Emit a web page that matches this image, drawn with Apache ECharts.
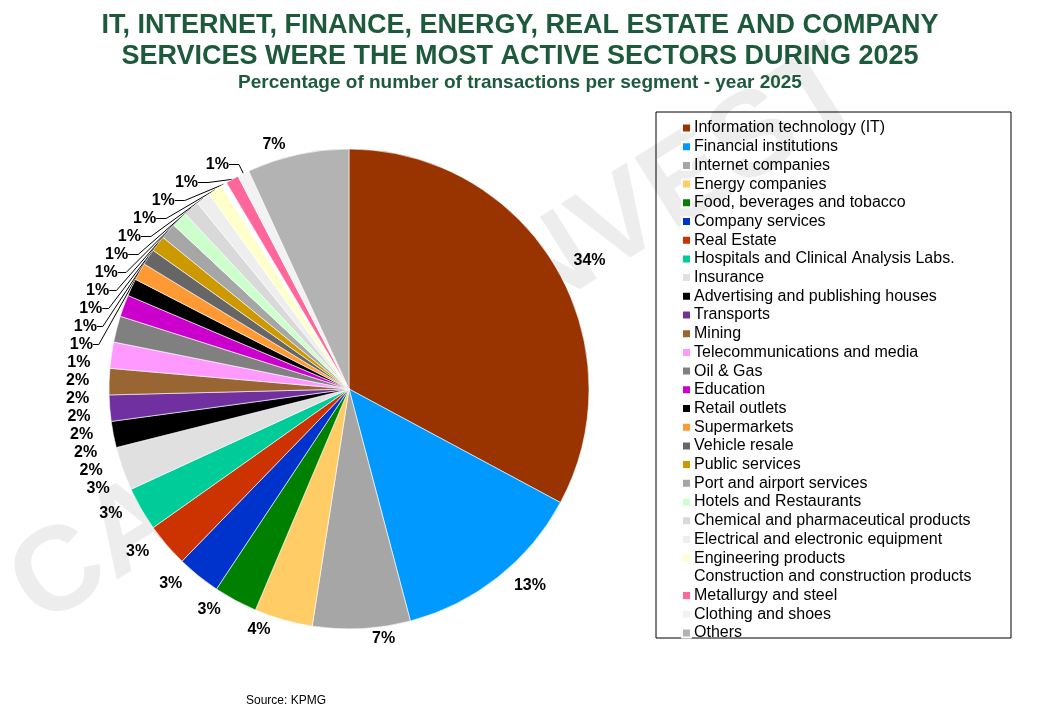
<!DOCTYPE html><html><head><meta charset="utf-8"><script src="https://cdn.jsdelivr.net/npm/echarts@6/dist/echarts.min.js"></script>
<style>body{margin:0}#c{width:1040px;height:720px}</style></head><body><div id="c"></div><script>
const categories=["Information technology (IT)","Financial institutions","Internet companies","Energy companies","Food, beverages and tobacco","Company services","Real Estate","Hospitals and Clinical Analysis Labs.","Insurance","Advertising and publishing houses","Transports","Mining","Telecommunications and media","Oil & Gas","Education","Retail outlets","Supermarkets","Vehicle resale","Public services","Port and airport services","Hotels and Restaurants","Chemical and pharmaceutical products","Electrical and electronic equipment","Engineering products","Construction and construction products","Metallurgy and steel","Clothing and shoes","Others"];
const values=[33.5,13.3,6.7,4.0,3.0,3.0,3.0,3.0,3.0,1.8,1.8,1.8,1.8,1.8,1.5,1.2,1.2,1.1,1.1,1.1,1.1,1.1,1.0,1.0,0.4,0.9,0.8,7.0];
const labels=["34%","13%","7%","4%","3%","3%","3%","3%","3%","2%","2%","2%","2%","2%","2%","1%","1%","1%","1%","1%","1%","1%","1%","1%","1%","1%","1%","7%"];
const colors=["#993300","#0099ff","#a6a6a6","#ffcc66","#008000","#0033cc","#cc3300","#00cc99","#e0e0e0","#000000","#7030a0","#996633","#ff99ff","#808080","#cc00cc","#000000","#ff9933","#666666","#cc9900","#a6a6a6","#ccffcc","#d9d9d9","#eeeeee","#ffffcc","#ffffff","#ff6699","#f2f2f2","#b3b3b3"];
const data=categories.map((n,i)=>({name:n,value:values[i],itemStyle:{color:colors[i]},
 label:{formatter:labels[i]},labelLine:{show:i>=16&&i<27}}));
const ch=echarts.init(document.getElementById('c'));
ch.setOption({
 animation:false,
 title:[{text:"IT, INTERNET, FINANCE, ENERGY, REAL ESTATE AND COMPANY\nSERVICES WERE THE MOST ACTIVE SECTORS DURING 2025",left:'center',top:5,
  textStyle:{color:'#1d5a3c',fontSize:27,fontWeight:'bold',fontFamily:'Liberation Sans',lineHeight:31,letterSpacing:1}},
  {text:"Percentage of number of transactions per segment - year 2025",left:'center',top:68,textStyle:{color:'#1d5a3c',fontSize:19,fontWeight:'bold',fontFamily:'Liberation Sans',letterSpacing:0.6}},
  {text:"Source: KPMG",left:241,top:690,textStyle:{color:'#000',fontSize:12,fontWeight:'normal',fontFamily:'Liberation Sans'}}],
 graphic:[{type:'text',x:55,y:650,rotation:0.56,style:{text:'CAPITAL INVEST',font:'bold 120px Liberation Sans',fill:'rgba(0,0,0,0.07)',textVerticalAlign:'bottom'},z:-1},
  {type:'rect',shape:{x:656,y:112,width:355,height:526},style:{fill:'none',stroke:'#000',lineWidth:1}}],
 legend:{orient:'vertical',left:676,top:115,itemWidth:9,itemHeight:9,itemGap:2.7,icon:'rect',data:categories,
  textStyle:{fontSize:16,lineHeight:16,color:'#000',fontFamily:'Liberation Sans',padding:[0,0,0,-2],letterSpacing:-0.4}},
 series:[{type:'pie',center:[349,389],radius:240,startAngle:90,clockwise:true,data:data,
  itemStyle:{borderColor:'#fff',borderWidth:0.6},
  label:{show:true,position:'outside',color:'#000',fontSize:16,fontWeight:'bold',fontFamily:'Liberation Sans',distanceToLabelLine:0},
  labelLine:{length:10,length2:10,lineStyle:{color:'#000',width:1}},
  avoidLabelOverlap:true}]
});
</script></body></html>
